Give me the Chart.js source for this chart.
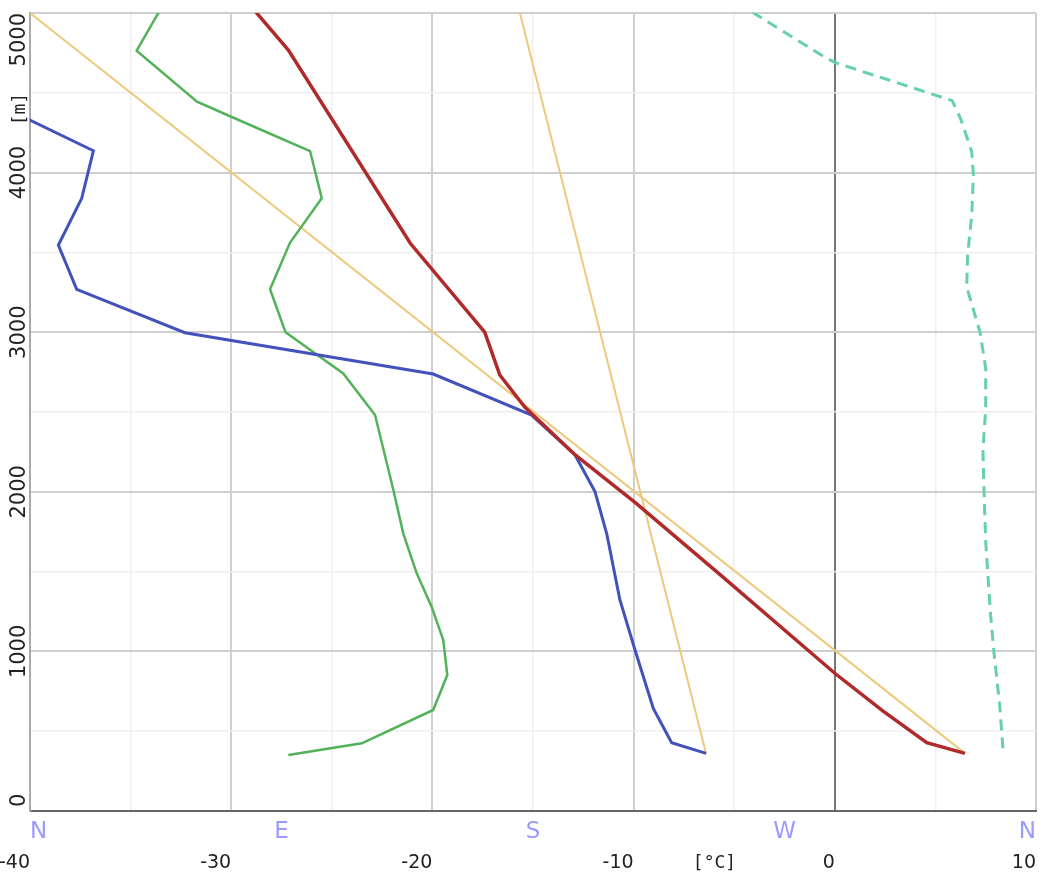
<!DOCTYPE html>
<html>
<head>
<meta charset="utf-8">
<script src="https://cdn.jsdelivr.net/npm/chart.js@4.4.1/dist/chart.umd.min.js"></script>
<style>
  html, body { margin: 0; padding: 0; background: #fff; }
  #wrap { width: 1060px; height: 874px; position: relative; }
</style>
</head>
<body>
<div id="wrap"><canvas id="sounding"></canvas></div>
<script>
// temperature profile (°C) against height (m)
const tempHeights = [5010, 4768, 3557, 3000, 2732, 2530, 2231, 1930, 1470, 1112, 863, 626, 428, 361];
const tempValues  = [-28.8, -27.16, -21.1, -17.4, -16.65, -15.4, -12.9, -9.9, -5.6, -2.3, 0, 2.4, 4.57, 6.47];

// dew point
const dewHeights = [4500, 4137, 3839, 3546, 3269, 2997, 2738, 2481, 2231, 2001, 1740, 1322, 1009, 643, 428, 361];
const dewValues  = [-42.8, -36.85, -37.43, -38.59, -37.68, -32.3, -19.96, -15.07, -12.91, -11.92, -11.34, -10.68, -9.93, -9.02, -8.11, -6.4];

// green profile
const greenHeights = [5005, 4764, 4444, 4350, 4135, 3839, 3560, 3269, 3000, 2742, 2481, 2011, 1740, 1489, 1280, 1071, 852, 633, 424, 351];
const greenValues  = [-33.6, -34.7, -31.7, -30.0, -26.08, -25.5, -27.08, -28.07, -27.3, -24.43, -22.85, -21.94, -21.45, -20.78, -20.04, -19.46, -19.26, -19.96, -23.51, -27.16];

// dry adiabat and mixing ratio line from the surface
const dryHeights = [361, 5000];
const dryValues  = [6.47, -40];
const mixHeights = [361, 5000];
const mixValues  = [-6.4, -15.65];

// wind direction (deg) against height
const windHeights = [5005, 4738, 4690, 4451, 4339, 4131, 3987, 3732, 3476, 3284, 2997, 2773, 2518, 2262, 2006, 1687, 1240, 984, 665, 361];
const windDirs    = [258.5, 283, 288, 330, 333, 337, 337.6, 337, 335.5, 335.2, 340, 342, 342, 341, 341.4, 342, 343.7, 345, 347, 348.3];

// axis texts
const xTickValues = [-40, -30, -20, -10, 0, 10];
const xTickLabels = ['-40', '-30', '-20', '-10', '0', '10'];
const xUnitValue = -5;
const xUnitLabel = '[°C]';
const yTickValues = [0, 1000, 2000, 3000, 4000, 5000];
const yTickLabels = ['0', '1000', '2000', '3000', '4000', '5000'];
const yUnitValue = 4500;
const yUnitLabel = '[m]';
const compassDegrees = [0, 90, 180, 270, 360];
const compassLabels = ['N', 'E', 'S', 'W', 'N'];

function toPoints(xs, ys) {
    return xs.map((x, i) => ({ x: x, y: ys[i] }));
}

function line(label, xs, ys, color, width, extra) {
    return Object.assign({
        label: label,
        data: toPoints(xs, ys),
        showLine: true,
        borderColor: color,
        backgroundColor: color,
        borderWidth: width,
        pointRadius: 0,
        tension: 0,
        fill: false
    }, extra || {});
}

const axisText = {
    id: 'axisText',
    afterDraw(chart) {
        const { ctx, chartArea, scales } = chart;
        const base = chartArea.bottom + 57;
        ctx.save();

        // temperature ticks, right aligned on their value
        ctx.fillStyle = '#222';
        ctx.font = '19px "DejaVu Sans"';
        ctx.textAlign = 'right';
        ctx.textBaseline = 'alphabetic';
        xTickValues.forEach((v, i) => {
            ctx.fillText(xTickLabels[i], scales.x.getPixelForValue(v), base);
        });
        ctx.font = '18px "DejaVu Sans Mono"';
        ctx.fillText(xUnitLabel, scales.x.getPixelForValue(xUnitValue) + 2, base);

        // compass points on the wind scale
        ctx.fillStyle = '#9a9aff';
        ctx.font = '23px "DejaVu Sans"';
        compassDegrees.forEach((d, i) => {
            ctx.textAlign = i === 0 ? 'left' : (i === compassDegrees.length - 1 ? 'right' : 'center');
            ctx.fillText(compassLabels[i], scales.wind.getPixelForValue(d), chartArea.bottom + 27);
        });

        // height ticks, rotated
        ctx.fillStyle = '#222';
        ctx.font = '21px "DejaVu Sans"';
        yTickValues.forEach((v, i) => {
            const w = ctx.measureText(yTickLabels[i]).width;
            let c = scales.y.getPixelForValue(v);
            c = Math.min(Math.max(c, chartArea.top + w / 2), chartArea.bottom - 4 - w / 2);
            ctx.save();
            ctx.translate(25, c);
            ctx.rotate(-Math.PI / 2);
            ctx.textAlign = 'center';
            ctx.fillText(yTickLabels[i], 0, 0);
            ctx.restore();
        });
        ctx.font = '18px "DejaVu Sans Mono"';
        ctx.save();
        ctx.translate(25, scales.y.getPixelForValue(yUnitValue));
        ctx.rotate(-Math.PI / 2);
        ctx.textAlign = 'right';
        ctx.fillText(yUnitLabel, 0, 0);
        ctx.restore();

        ctx.restore();
    }
};

const ctx = document.getElementById('sounding').getContext('2d');
const chart = new Chart(ctx, {
    type: 'scatter',
    data: {
        datasets: [
            line('Temperature', tempValues, tempHeights, '#b02a2a', 3.5),
            line('Dew point', dewValues, dewHeights, '#4251bb', 3),
            line('Profile', greenValues, greenHeights, '#52b25a', 2.5),
            line('Dry adiabat', dryValues, dryHeights, '#ecc97c', 2),
            line('Mixing ratio', mixValues, mixHeights, '#ecc97c', 2),
            line('Wind direction', windDirs, windHeights, '#66cfb2', 3, { xAxisID: 'wind', borderDash: [11, 7] })
        ]
    },
    options: {
        responsive: true,
        maintainAspectRatio: false,
        animation: false,
        events: [],
        layout: { padding: { left: 30, right: 24, top: 13, bottom: 63 } },
        plugins: {
            legend: { display: false },
            tooltip: { enabled: false }
        },
        scales: {
            x: {
                type: 'linear',
                min: -40,
                max: 10,
                ticks: { stepSize: 5, display: false },
                grid: {
                    drawTicks: false,
                    color: c => {
                        const v = c.tick.value;
                        if (v === 0) return '#777';
                        if (v === -40) return '#aaa';
                        return v % 10 === 0 ? '#cfcfcf' : '#efefef';
                    },
                    lineWidth: c => (c.tick.value % 10 === 0 ? 2 : 1.5)
                },
                border: { color: '#666', width: 2 }
            },
            wind: {
                type: 'linear',
                min: 0,
                max: 360,
                display: false
            },
            y: {
                type: 'linear',
                min: 0,
                max: 5000,
                ticks: { stepSize: 500, display: false },
                grid: {
                    drawTicks: false,
                    color: c => {
                        const v = c.tick.value;
                        if (v === 0) return '#666';
                        return v % 1000 === 0 ? '#cfcfcf' : '#efefef';
                    },
                    lineWidth: c => (c.tick.value % 1000 === 0 ? 2 : 1.5)
                },
                border: { color: '#aaa', width: 2 }
            }
        }
    },
    plugins: [axisText]
});
</script>
</body>
</html>
